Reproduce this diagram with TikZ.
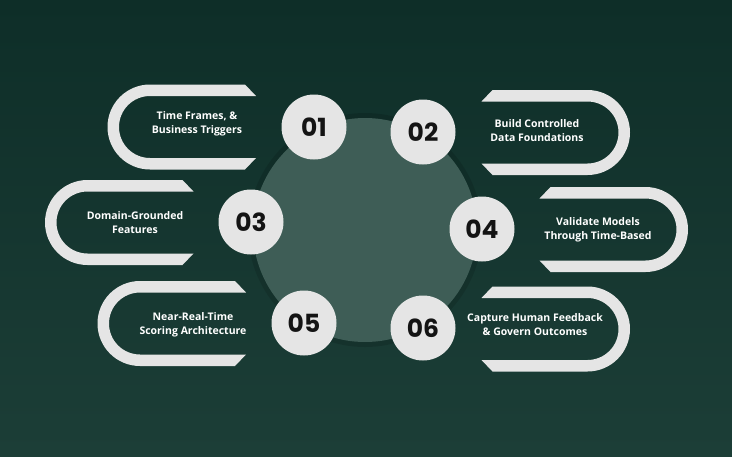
\documentclass[tikz,border=0pt]{standalone}
\usepackage{fontspec}
\setmainfont{Open Sans}
\newfontfamily\numfont{Poppins}
\usetikzlibrary{calc,positioning}
\definecolor{bgtop}{HTML}{0E2E28}
\definecolor{bgbot}{HTML}{1C3E37}
\definecolor{hub}{HTML}{3E5D56}
\definecolor{pillgray}{HTML}{E5E5E5}

\begin{document}
\begin{tikzpicture}[x=1pt,y=-1pt,{pill/.style={fill=pillgray}},{pillR/.style={fill=pillgray,xscale=-1}},{numc/.style={circle,fill=pillgray,minimum size=65pt,inner sep=0pt,text=black!92,font=\numfont\bfseries\fontsize{25}{25}\selectfont}},{label/.style={align=center,text=white,inner sep=0pt,font=\bfseries\fontsize{10.5}{14}\selectfont}}]
	%%background
	\shade [top color=bgtop,bottom color=bgbot] (0,0) rectangle (732,456);
	%%hub circle
	\coordinate (O) at (365,230);
	\fill [black,opacity=0.12] (O) circle [radius=117];
	\fill [hub] (O) circle [radius=112];
	%%pills, arc on the left
	\fill [shift={(150,127)},pill] (95,-42.5) -- (0,-42.5) arc [start angle=270,end angle=90,radius=42.5] -- (95,42.5) -- (106,31) -- (0,31) arc [start angle=90,end angle=270,radius=31] -- (106,-31) -- cycle;
	\fill [shift={(87.5,222.5)},pill] (95,-42.5) -- (0,-42.5) arc [start angle=270,end angle=90,radius=42.5] -- (95,42.5) -- (106,31) -- (0,31) arc [start angle=90,end angle=270,radius=31] -- (106,-31) -- cycle;
	\fill [shift={(140,323.5)},pill] (95,-42.5) -- (0,-42.5) arc [start angle=270,end angle=90,radius=42.5] -- (95,42.5) -- (106,31) -- (0,31) arc [start angle=90,end angle=270,radius=31] -- (106,-31) -- cycle;
	%%pills, arc on the right
	\fill [shift={(587.5,132.5)},pillR] (95,-42.5) -- (0,-42.5) arc [start angle=270,end angle=90,radius=42.5] -- (95,42.5) -- (106,31) -- (0,31) arc [start angle=90,end angle=270,radius=31] -- (106,-31) -- cycle;
	\fill [shift={(645.5,229.5)},pillR] (95,-42.5) -- (0,-42.5) arc [start angle=270,end angle=90,radius=42.5] -- (95,42.5) -- (106,31) -- (0,31) arc [start angle=90,end angle=270,radius=31] -- (106,-31) -- cycle;
	\fill [shift={(587.5,329)},pillR] (95,-42.5) -- (0,-42.5) arc [start angle=270,end angle=90,radius=42.5] -- (95,42.5) -- (106,31) -- (0,31) arc [start angle=90,end angle=270,radius=31] -- (106,-31) -- cycle;
	%%numbers
	\node [numc] (n1) at (314,127) {01};
	\node [numc] (n2) at (423,132) {02};
	\node [numc] (n3) at (251,222) {03};
	\node [numc] (n4) at (482,229) {04};
	\node [numc] (n5) at (304,323) {05};
	\node [numc] (n6) at (423,328) {06};
	%%labels
	\node [label] (t1) at (197,124) {Time Frames, \&\\Business Triggers};
	\node [label] (t2) at (537,131) {Build Controlled\\Data Foundations};
	\node [label] (t3) at (135,223) {Domain-Grounded\\Features};
	\node [label] (t4) at (598,229.5) {Validate Models\\Through Time-Based};
	\node [label] (t5) at (193,324.5) {Near-Real-Time\\Scoring Architecture};
	\node [label] (t6) at (535,325) {Capture Human Feedback\\\& Govern Outcomes};
\end{tikzpicture}
\end{document}
